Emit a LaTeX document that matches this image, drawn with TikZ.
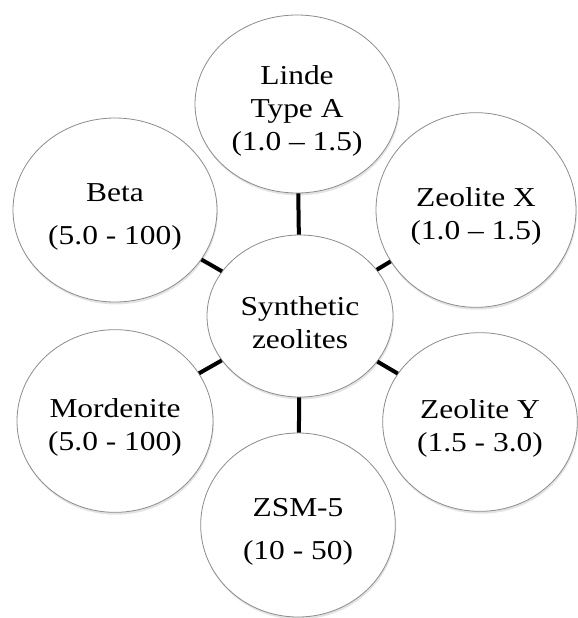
\documentclass[tikz,border=0pt]{standalone}
\usepackage{fontspec}
\setmainfont{Liberation Serif}[FakeStretch=1.15]
\usetikzlibrary{shapes.geometric,shadows}
\newcommand\zlift{\rule{0pt}{24pt}}

\begin{document}
\begin{tikzpicture}[x=0.75pt,y=-0.75pt,font=\fontsize{20.5}{24.75}\selectfont,
  zeo/.style={ellipse,draw=black!45,line width=0.6pt,fill=white,align=center,inner sep=0pt,
    drop shadow={opacity=0.22,shadow xshift=0.6pt,shadow yshift=-1.8pt}},
  link/.style={draw=black,line width=3pt}]
\useasboundingbox (0,0) rectangle (578,618);

% Hub and the six framework types around it.
\node[zeo,minimum width=139.5pt,minimum height=121.5pt] (hub) at (300,316) {\zlift Synthetic\\zeolites};
\node[zeo,minimum width=153pt,minimum height=133.5pt] (linde) at (297,104) {\zlift Linde\\Type A\\(1.0 – 1.5)};
\node[zeo,minimum width=153pt,minimum height=138pt] (beta) at (115,210) {\zlift Beta\\[8pt](5.0 - 100)};
\node[zeo,minimum width=150pt,minimum height=146pt] (zeox) at (476,210) {\zlift Zeolite X\\(1.0 – 1.5)};
\node[zeo,minimum width=146pt,minimum height=134pt] (zeoy) at (480,422) {\zlift Zeolite Y\\(1.5 - 3.0)};
\node[zeo,minimum width=147pt,minimum height=137pt] (mord) at (115,421) {\zlift Mordenite\\(5.0 - 100)};
\node[zeo,minimum width=146pt,minimum height=138pt] (zsm) at (298,525) {\zlift ZSM-5\\[7pt](10 - 50)};

\foreach \to in {linde,beta,zeox,zeoy,mord,zsm}
  \draw[link] (hub)--(\to);
\end{tikzpicture}
\end{document}
